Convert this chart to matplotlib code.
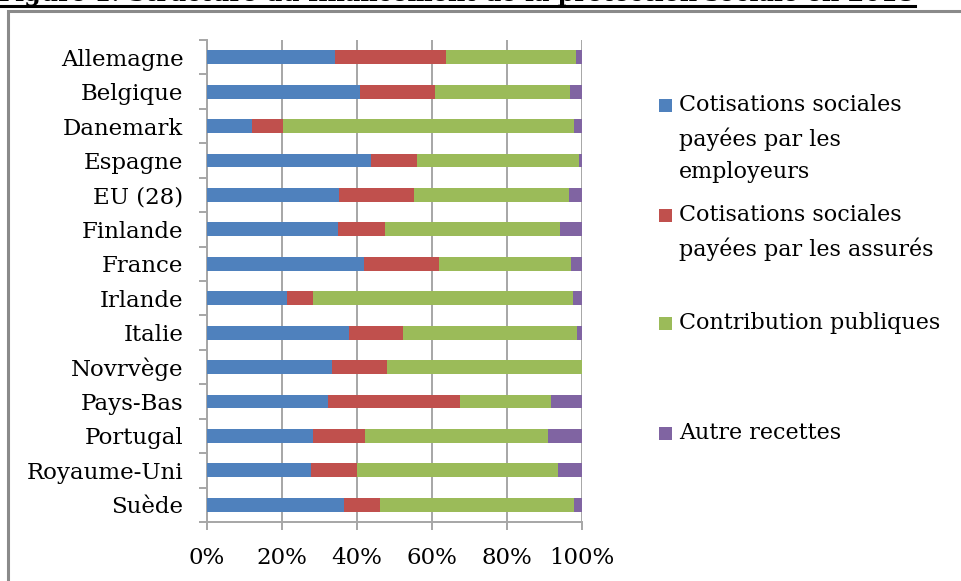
import matplotlib
matplotlib.use("Agg")
import matplotlib.pyplot as plt
from matplotlib.patches import Rectangle
from matplotlib.lines import Line2D
from matplotlib.ticker import FixedLocator, PercentFormatter

plt.rcParams['font.family'] = ['DejaVu Serif']

# Shares of social protection receipts (%), by country
pays = ["Allemagne", "Belgique", "Danemark", "Espagne", "EU (28)", "Finlande",
        "France", "Irlande", "Italie", "Novrvège", "Pays-Bas", "Portugal",
        "Royaume-Uni", "Suède"]
employeurs = [34.0, 40.8, 12.1, 43.8, 35.3, 34.8, 41.9, 21.4, 37.8, 33.3, 32.3, 28.3, 27.8, 36.4]
assures    = [29.7, 20.0, 8.2, 12.3, 19.8, 12.6, 20.1, 6.9, 14.4, 14.8, 35.2, 13.9, 12.3, 9.7]
publiques  = [34.6, 36.1, 77.6, 43.1, 41.4, 46.8, 35.0, 69.3, 46.4, 51.9, 24.3, 48.6, 53.4, 51.8]
autres     = [1.7, 3.1, 2.1, 0.8, 3.5, 5.8, 3.0, 2.4, 1.4, 0.0, 8.2, 9.2, 6.5, 2.1]

series = [
    ("Cotisations sociales\npayées par les\nemployeurs", employeurs, "#4F81BD"),
    ("Cotisations sociales\npayées par les assurés", assures, "#C0504D"),
    ("Contribution publiques", publiques, "#9BBB59"),
    ("Autre recettes", autres, "#8064A2"),
]
x_ticks = [0, 20, 40, 60, 80, 100]

W, H = 962, 581
fig = plt.figure(figsize=(W / 100, H / 100), dpi=100)

def fx(px):
    return px / W

def fy(py):
    return 1 - py / H

# Chart frame
fig.patches.append(Rectangle((fx(8), fy(H + 20)), fx(W + 40), fy(11) - fy(H + 20),
                             transform=fig.transFigure, fill=False,
                             edgecolor="#8a8a8a", linewidth=2.2))

# Title (partially off the top of the page)
fig.text(fx(-2), fy(1.5), "Figure 1: Structure du financement de la protection sociale en 2018",
         fontsize=17.2, fontweight="bold", ha="left", va="baseline", color="black")
fig.add_artist(Line2D([fx(0), fx(915)], [fy(5.5), fy(5.5)], transform=fig.transFigure,
                      color="black", linewidth=2.2))

ax = fig.add_axes([fx(207), fy(522), fx(582) - fx(207), fy(40) - fy(522)])

ypos = list(range(len(pays)))
left = [0.0] * len(pays)
for label, vals, color in series:
    ax.barh(ypos, vals, left=left, height=0.4, color=color, label=label, zorder=3)
    left = [l + v for l, v in zip(left, vals)]

ax.set_xlim(0, 100)
ax.set_ylim(len(pays) - 0.5, -0.5)

ax.xaxis.set_major_locator(FixedLocator(x_ticks))
ax.xaxis.set_major_formatter(PercentFormatter(decimals=0))
ax.set_yticks(ypos)
ax.set_yticklabels(pays)
ax.set_yticks([i - 0.5 for i in range(len(pays) + 1)], minor=True)

ax.grid(axis="x", color="#a6a6a6", linewidth=1.4, zorder=0)
ax.tick_params(axis="y", which="major", length=0, pad=17, labelsize=16.5)
ax.tick_params(axis="y", which="minor", length=6, width=1.4, color="#a6a6a6", direction="out")
ax.tick_params(axis="x", which="major", length=6, width=1.4, color="#a6a6a6",
               direction="out", pad=12, labelsize=16.5)

for side in ("top", "right"):
    ax.spines[side].set_visible(False)
for side in ("left", "bottom"):
    ax.spines[side].set_color("#a6a6a6")
    ax.spines[side].set_linewidth(1.4)

# Legend drawn entry by entry
legend_rows = [105, 215, 323, 433]
for (label, vals, color), y in zip(series, legend_rows):
    fig.patches.append(Rectangle((fx(659), fy(y + 7)), fx(13), fy(y - 6) - fy(y + 7),
                                 transform=fig.transFigure, facecolor=color, edgecolor="none"))
    fig.text(fx(679), fy(y - 11), label, fontsize=16, ha="left", va="top",
             linespacing=1.6, color="black")

fig.savefig("out.png", dpi=100)
